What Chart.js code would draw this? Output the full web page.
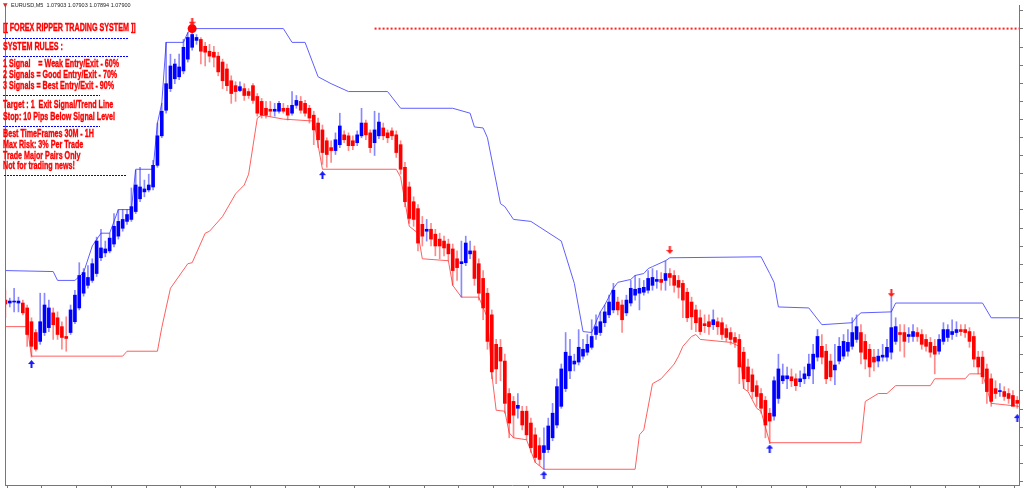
<!DOCTYPE html>
<html>
<head>
<meta charset="utf-8">
<script src="https://cdn.jsdelivr.net/npm/chart.js@4.4.1/dist/chart.umd.min.js"></script>
<style>
  html, body { margin: 0; padding: 0; background: #fff; }
  #wrap { position: relative; width: 1024px; height: 490px; overflow: hidden; }
  #chart { position: absolute; left: 0; top: 0; }
  .hdr { position: absolute; left: 11px; top: 2px; font: 5.5px "Liberation Sans", sans-serif; color: #222; white-space: pre; line-height: 6px; }
  .ico { position: absolute; left: 3px; top: 2px; font: 6px "DejaVu Sans", sans-serif; color: #c33; line-height: 6px; }
  .note { position: absolute; left: 3px; font: bold 11px "Liberation Sans", sans-serif; color: #ff0000; white-space: pre; line-height: 11px;
          transform: scaleX(0.65); transform-origin: 0 50%; -webkit-text-stroke: 0.4px #ff0000; }
  .dash { position: absolute; height: 1px; background: repeating-linear-gradient(to right, #0000ff 0 2px, transparent 2px 3px); }
</style>
</head>
<body>
<div id="wrap">
  <canvas id="chart" width="1024" height="490"></canvas>
</div>
<script>
// EURUSD M5, prices in points above 1.07000 (1000 -> 1.08000)
const opens = [
  1000, 997, 998, 997, 997, 992, 978, 967, 958, 967,
  972, 987, 982, 973, 963, 967, 978, 992, 1007, 1015,
  1020, 1027, 1043, 1048, 1050, 1057, 1065, 1073, 1080, 1082,
  1090, 1103, 1110, 1112, 1115, 1137, 1167, 1193, 1215, 1225,
  1227, 1233, 1245, 1257, 1264, 1265, 1258, 1253, 1252, 1248,
  1242, 1235, 1223, 1218, 1213, 1215, 1212, 1218, 1207, 1202,
  1195, 1194, 1192, 1192, 1195, 1195, 1190, 1198, 1202, 1200,
  1195, 1188, 1180, 1173, 1162, 1155, 1152, 1158, 1168, 1167,
  1162, 1160, 1167, 1180, 1170, 1160, 1167, 1175, 1170, 1172,
  1168, 1158, 1135, 1115, 1100, 1093, 1077, 1070, 1072, 1067,
  1062, 1060, 1057, 1052, 1042, 1037, 1038, 1047, 1050, 1037,
  1022, 1007, 985, 955, 952, 938, 905, 897, 890, 887,
  887, 875, 863, 852, 845, 848, 860, 873, 892, 910,
  928, 935, 937, 943, 947, 952, 965, 967, 977, 985,
  990, 998, 995, 987, 997, 1005, 1007, 1008, 1010, 1015,
  1019, 1021, 1020, 1027, 1025, 1020, 1017, 1008, 998, 990,
  982, 976, 978, 975, 978, 977, 971, 967, 962, 960,
  947, 932, 924, 913, 905, 898, 885, 882, 900, 918,
  920, 922, 920, 917, 920, 923, 930, 942, 953, 948,
  938, 929, 938, 943, 948, 953, 960, 967, 958, 950,
  942, 938, 942, 942, 947, 958, 967, 967, 963, 963,
  967, 965, 960, 957, 953, 948, 958, 962, 965, 967,
  970, 970, 968, 963, 942, 942, 930, 920, 910, 907,
  907, 905, 903, 898
];
const highs = [
  1010, 1002, 1012, 1003, 1000, 995, 982, 970, 1007, 1007,
  1000, 992, 988, 978, 983, 995, 1010, 1038, 1032, 1035,
  1042, 1064, 1072, 1060, 1068, 1088, 1092, 1092, 1092, 1114,
  1132, 1135, 1122, 1128, 1142, 1180, 1200, 1262, 1250, 1245,
  1250, 1265, 1272, 1276, 1270, 1267, 1262, 1260, 1258, 1252,
  1245, 1240, 1228, 1222, 1222, 1220, 1215, 1220, 1210, 1205,
  1202, 1202, 1200, 1202, 1200, 1198, 1212, 1208, 1207, 1203,
  1198, 1192, 1185, 1178, 1165, 1162, 1170, 1190, 1172, 1170,
  1167, 1172, 1195, 1183, 1173, 1192, 1190, 1180, 1173, 1175,
  1172, 1162, 1140, 1120, 1105, 1097, 1085, 1082, 1078, 1072,
  1068, 1065, 1062, 1057, 1050, 1060, 1065, 1060, 1055, 1042,
  1030, 1012, 990, 960, 960, 945, 910, 902, 905, 892,
  892, 880, 870, 860, 870, 880, 895, 920, 935, 967,
  960, 945, 970, 960, 965, 980, 985, 988, 995, 1005,
  1017, 1003, 1000, 1005, 1020, 1025, 1022, 1020, 1030, 1032,
  1030, 1028, 1040, 1032, 1030, 1025, 1020, 1012, 1003, 995,
  990, 985, 985, 990, 982, 982, 975, 972, 967, 965,
  952, 940, 930, 918, 910, 902, 890, 922, 945, 935,
  932, 930, 925, 928, 932, 945, 955, 970, 965, 955,
  945, 955, 962, 965, 970, 982, 985, 975, 965, 955,
  950, 950, 955, 960, 1003, 982, 975, 975, 972, 975,
  972, 970, 965, 962, 960, 965, 977, 975, 980, 978,
  975, 975, 972, 968, 948, 948, 935, 925, 918, 915,
  912, 910, 908, 902
];
const lows = [
  982, 993, 988, 988, 985, 953, 942, 948, 955, 964,
  968, 960, 960, 950, 948, 965, 976, 990, 1004, 1012,
  1018, 1024, 1040, 1044, 1048, 1054, 1062, 1070, 1077, 1080,
  1088, 1100, 1105, 1110, 1112, 1135, 1165, 1190, 1212, 1220,
  1224, 1230, 1242, 1254, 1260, 1240, 1238, 1242, 1237, 1228,
  1215, 1213, 1200, 1202, 1212, 1203, 1205, 1200, 1187, 1185,
  1185, 1187, 1187, 1190, 1190, 1183, 1188, 1195, 1190, 1187,
  1180, 1158, 1155, 1138, 1135, 1140, 1148, 1155, 1160, 1152,
  1153, 1157, 1165, 1163, 1150, 1147, 1164, 1163, 1160, 1163,
  1145, 1128, 1095, 1078, 1075, 1050, 1055, 1060, 1055, 1045,
  1042, 1045, 1040, 1015, 1020, 1003, 1035, 1042, 1015, 1000,
  980, 950, 920, 915, 918, 885, 860, 860, 880, 868,
  858, 845, 835, 832, 828, 845, 857, 870, 890, 907,
  920, 928, 934, 940, 944, 950, 960, 964, 973, 982,
  987, 985, 967, 984, 994, 1000, 990, 1005, 1007, 1010,
  1012, 1010, 1010, 1015, 1008, 1002, 982, 978, 970, 968,
  965, 967, 965, 970, 965, 960, 958, 955, 952, 915,
  910, 908, 900, 892, 885, 860, 854, 878, 895, 915,
  910, 912, 908, 912, 915, 920, 915, 938, 935, 915,
  918, 914, 935, 940, 943, 950, 957, 935, 930, 922,
  928, 932, 938, 938, 940, 955, 948, 942, 957, 958,
  958, 950, 948, 942, 925, 945, 955, 958, 960, 963,
  964, 962, 952, 932, 925, 915, 895, 892, 900, 902,
  898, 895, 893, 890
];
const closes = [
  996, 999, 999, 999, 987, 965, 953, 950, 978, 995,
  992, 975, 965, 962, 961, 990, 1005, 1025, 1028, 1023,
  1037, 1060, 1053, 1052, 1063, 1075, 1080, 1082, 1087, 1095,
  1117, 1115, 1113, 1117, 1137, 1167, 1192, 1220, 1238, 1240,
  1237, 1257, 1267, 1270, 1267, 1253, 1252, 1248, 1247, 1232,
  1223, 1218, 1210, 1212, 1217, 1208, 1208, 1203, 1190, 1188,
  1188, 1192, 1194, 1200, 1192, 1188, 1198, 1203, 1193, 1190,
  1185, 1173, 1163, 1150, 1148, 1152, 1163, 1177, 1163, 1157,
  1157, 1168, 1180, 1168, 1155, 1173, 1181, 1167, 1165, 1167,
  1150, 1133, 1100, 1083, 1082, 1058, 1065, 1072, 1062, 1055,
  1055, 1053, 1047, 1030, 1033, 1039, 1058, 1050, 1022, 1007,
  992, 958, 927, 930, 938, 895, 875, 883, 893, 873,
  863, 850, 840, 838, 852, 872, 885, 912, 930, 947,
  943, 938, 952, 950, 955, 963, 973, 978, 988, 998,
  1010, 990, 980, 1000, 1012, 1011, 1012, 1013, 1022, 1023,
  1021, 1018, 1027, 1023, 1015, 1013, 1000, 982, 983, 977,
  968, 974, 973, 980, 973, 965, 962, 960, 957, 932,
  920, 917, 907, 902, 890, 873, 877, 918, 930, 923,
  923, 918, 913, 920, 925, 935, 945, 963, 942, 920,
  922, 934, 953, 958, 957, 967, 973, 947, 940, 932,
  937, 943, 944, 952, 972, 973, 965, 958, 965, 968,
  963, 955, 953, 947, 945, 960, 970, 970, 968, 970,
  968, 967, 958, 940, 932, 922, 907, 897, 905, 908,
  902, 900, 892, 895
];

// channel lines: bar index and level at each corner
const upperIdx = [0, 11, 12, 16, 18, 20, 22, 24, 26, 29, 30, 34, 35, 36, 37, 41, 42, 43, 64, 66, 69, 72, 75, 79, 88, 91, 103, 107, 108, 110, 111, 114, 115, 117, 121, 128, 131, 133, 135, 137, 138, 140, 141, 144, 145, 147, 148, 149, 152, 153, 174, 176, 177, 178, 185, 188, 195, 196, 197, 204, 205, 225, 227, 233.4];
const upperVal = [1030, 1029, 1020, 1020, 1028, 1055, 1068, 1068, 1092, 1092, 1133, 1133, 1180, 1200, 1262, 1262, 1272, 1276, 1276, 1262, 1262, 1227, 1220, 1212, 1212, 1195, 1195, 1190, 1176, 1175, 1165, 1098, 1095, 1082, 1080, 1060, 1017, 968, 967, 988, 995, 1012, 1018, 1021, 1025, 1027, 1032, 1034, 1040, 1043, 1044, 1027, 1018, 993, 992, 975, 977, 983, 987, 988, 997, 997, 982, 982];
const lowerIdx = [0, 5, 6, 27, 28, 35, 36, 37, 38, 42, 43, 46, 47, 50, 53, 55, 56, 58, 59, 64, 71, 73, 90, 91, 93, 95, 96, 102, 103, 105, 109, 111, 112, 113, 115, 116, 117, 120, 122, 124, 145, 146, 147, 149, 151, 154, 155, 156, 158, 159, 160, 167, 169, 170, 171, 173, 174, 176, 197, 198, 201, 203, 205, 213, 214, 221, 222, 225, 227, 233.4];
const lowerVal = [973, 973, 943, 943, 948, 948, 972, 992, 1012, 1037, 1038, 1068, 1070, 1085, 1108, 1117, 1128, 1185, 1188, 1184, 1182, 1133, 1133, 1125, 1075, 1068, 1042, 1040, 1015, 1003, 1003, 982, 925, 888, 887, 865, 860, 858, 835, 828, 828, 863, 868, 915, 920, 935, 943, 953, 963, 965, 960, 957, 953, 910, 907, 890, 887, 855, 855, 897, 905, 905, 913, 913, 920, 920, 925, 925, 895, 892];

// signal arrows
const buyIdx = [6, 73, 124, 176, 233];
const buyVal = [935, 1127, 822, 849, 880];
const sellIdx = [43, 153, 204];
const sellVal = [1283, 1051, 1007];
const peakIdx = 43;
const peakVal = 1276;
const levelFrom = 85;

const header = 'EURUSD,M5  1.07903 1.07903 1.07894 1.07900';
const notes = [
  ['[[ FOREX RIPPER TRADING SYSTEM ]]', 28],
  ['SYSTEM RULES :', 47],
  ['1 Signal    = Weak Entry/Exit - 60%', 64],
  ['2 Signals = Good Entry/Exit - 70%', 75],
  ['3 Signals = Best Entry/Exit - 90%', 86],
  ['Target : 1  Exit Signal/Trend Line', 105],
  ['Stop: 10 Pips Below Signal Level', 117],
  ['Best TimeFrames 30M - 1H', 134],
  ['Max Risk: 3% Per Trade', 145],
  ['Trade Major Pairs Only', 156],
  ['Not for trading news!', 166]
];
const rules = [[38, 3, 128], [56, 3, 128], [95, 3, 100], [126, 3, 100], [175, 4, 127]];

const wrap = document.getElementById('wrap');
const ico = document.createElement('div');
ico.className = 'ico';
ico.textContent = '\u25BC';
wrap.appendChild(ico);
const hd = document.createElement('div');
hd.className = 'hdr';
hd.textContent = header;
wrap.appendChild(hd);
for (const [t, y] of notes) {
  const d = document.createElement('div');
  d.className = 'note';
  d.style.top = (y - 6) + 'px';
  d.textContent = t;
  wrap.appendChild(d);
}
for (const [y, x0, x1] of rules) {
  const d = document.createElement('div');
  d.className = 'dash';
  d.style.top = y + 'px';
  d.style.left = x0 + 'px';
  d.style.width = (x1 - x0) + 'px';
  wrap.appendChild(d);
}

function arrow(color, down) {
  const c = document.createElement('canvas');
  c.width = 7; c.height = 8;
  const g = c.getContext('2d');
  g.fillStyle = color;
  if (down) { g.translate(0, 8); g.scale(1, -1); }
  g.beginPath();
  g.moveTo(3.5, 0); g.lineTo(7, 4); g.lineTo(0, 4); g.closePath();
  g.fill();
  g.fillRect(2.5, 4, 2, 4);
  return c;
}

const isUp = opens.map((o, i) => closes[i] >= o);
const bodies = opens.map((o, i) => ({ x: i, y: [o, closes[i]] }));
const wicks = highs.map((h, i) => ({ x: i, y: [lows[i], h] }));
const pts = (xs, ys) => xs.map((x, i) => ({ x: x, y: ys[i] }));

const frame = {
  id: 'frame',
  afterDraw(chart) {
    const { ctx, chartArea: a } = chart;
    ctx.save();
    ctx.strokeStyle = '#777';
    ctx.lineWidth = 1;
    ctx.beginPath();
    ctx.moveTo(a.left + 0.5, a.top);
    ctx.lineTo(a.left + 0.5, a.bottom);
    ctx.stroke();
    ctx.restore();
  }
};

new Chart(document.getElementById('chart'), {
  type: 'bar',
  data: {
    datasets: [
      {
        type: 'line', data: pts(upperIdx, upperVal), borderColor: 'rgb(95,95,255)',
        borderWidth: 1, pointRadius: 0, tension: 0, order: 5
      },
      {
        type: 'line', data: pts(lowerIdx, lowerVal), borderColor: 'rgb(255,95,95)',
        borderWidth: 1, pointRadius: 0, tension: 0, order: 5
      },
      {
        type: 'line', data: [{ x: levelFrom, y: peakVal }, { x: 233.4, y: peakVal }],
        borderColor: '#ff2020', borderWidth: 2, borderDash: [2, 2], pointRadius: 0, order: 5
      },
      {
        data: wicks, grouped: false, barThickness: 1, order: 4,
        backgroundColor: isUp.map(u => u ? 'rgba(40,40,255,0.55)' : 'rgba(255,40,40,0.55)')
      },
      {
        data: bodies, grouped: false, barThickness: 3, order: 3,
        backgroundColor: isUp.map(u => u ? '#0000ff' : '#ff0000')
      },
      {
        type: 'line', data: pts(buyIdx, buyVal), showLine: false, order: 1,
        pointStyle: arrow('#1a1aff', false), pointRadius: 4
      },
      {
        type: 'line', data: pts(sellIdx, sellVal), showLine: false, order: 1,
        pointStyle: arrow('#ff1a1a', true), pointRadius: 4
      },
      {
        type: 'line', data: [{ x: peakIdx, y: peakVal }], showLine: false, order: 1,
        pointStyle: 'circle', pointRadius: 4.5, pointBackgroundColor: '#ff0000', pointBorderColor: '#ff0000', pointBorderWidth: 0
      }
    ]
  },
  options: {
    responsive: false,
    animation: false,
    devicePixelRatio: 1,
    layout: { padding: { left: 2, top: 0, right: 0, bottom: 0 } },
    plugins: { legend: { display: false }, tooltip: { enabled: false } },
    scales: {
      x: {
        type: 'linear', min: -0.1, max: 233.4, offset: false,
        grid: { drawOnChartArea: false, offset: false, tickLength: 3, color: '#777' },
        border: { color: '#777' },
        ticks: { display: false },
        afterBuildTicks: s => { const t = []; for (let v = 0.4; v < 233.4; v += 8) t.push({ value: v }); s.ticks = t; },
        afterFit: s => { s.height = 2; }
      },
      y: {
        position: 'right', min: 812, max: 1300,
        grid: { drawOnChartArea: false, tickLength: 4, color: '#777' },
        border: { color: '#777' },
        ticks: { display: false },
        afterBuildTicks: s => { const t = []; for (let v = 1018 - 18.4 * 11; v < 1300; v += 18.4) t.push({ value: v }); s.ticks = t; },
        afterFit: s => { s.width = 4; }
      }
    }
  },
  plugins: [frame]
});
</script>
</body>
</html>
